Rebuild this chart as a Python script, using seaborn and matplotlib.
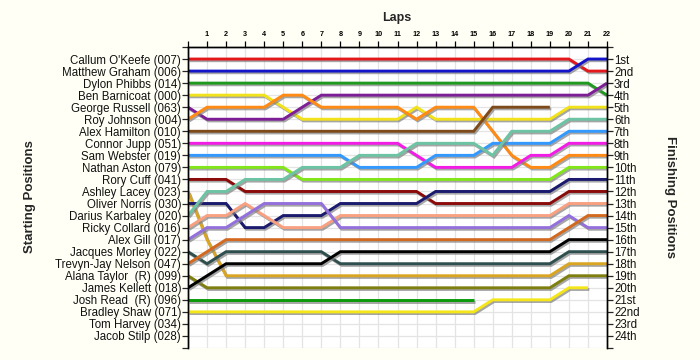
import numpy as np
import pandas as pd
import matplotlib
matplotlib.use("Agg")
import matplotlib.pyplot as plt
import matplotlib.patheffects as pe
import seaborn as sns

nan = np.nan
laps = list(range(0, 23))

drivers = ["Callum O'Keefe (007)", "Matthew Graham (006)", "Dylon Phibbs (014)",
           "Ben Barnicoat (000)", "George Russell (063)", "Roy Johnson (004)",
           "Alex Hamilton (010)", "Connor Jupp (051)", "Sam Webster (019)",
           "Nathan Aston (079)", "Rory Cuff (041)", "Ashley Lacey (023)",
           "Oliver Norris (030)", "Darius Karbaley (020)", "Ricky Collard (016)",
           "Alex Gill (017)", "Jacques Morley (022)", "Trevyn-Jay Nelson (047)",
           "Alana Taylor  (R) (099)", "James Kellett (018)", "Josh Read  (R) (096)",
           "Bradley Shaw (071)", "Tom Harvey (034)", "Jacob Stilp (028)"]

finish_labels = ["1st", "2nd", "3rd", "4th", "5th", "6th", "7th", "8th", "9th", "10th",
                 "11th", "12th", "13th", "14th", "15th", "16th", "17th", "18th", "19th",
                 "20th", "21st", "22nd", "23rd", "24th"]

callum = [1] * 21 + [2, 2]
matthew = [2] * 21 + [1, 1]
dylon = [3] * 22 + [4]
ben = [4, 4, 4, 4, 4, 5, 6, 6, 6, 6, 6, 6, 5, 6, 6, 6, 6, 6, 6, 6, 5, 5, 5]
george = [5, 6, 6, 6, 6, 6, 5, 4, 4, 4, 4, 4, 4, 4, 4, 4, 4, 4, 4, 4, 4, 4, 3]
roy = [6, 5, 5, 5, 5, 4, 4, 5, 5, 5, 5, 5, 6, 5, 5, 5, 7, 9, 10, 10, 9, 9, 9]
hamilton = [7] * 16 + [5] * 4 + [nan] * 3
connor = [8] * 12 + [9] + [10] * 5 + [9, 9] + [8, 8, 8]
sam = [9] * 9 + [10] * 4 + [9] * 3 + [8] * 4 + [7] * 3
nathan = [10] * 6 + [11] * 14 + [10] * 3
rory = [11] * 3 + [12] * 10 + [13] * 7 + [12] * 3
ashley = [12, 16] + [19] * 18 + [18] * 3
oliver = [13] * 3 + [15] * 2 + [14] * 3 + [13] * 5 + [12] * 7 + [11] * 3
darius = [14] + [12] * 2 + [11] * 3 + [10] * 3 + [9] * 3 + [8] * 4 + [9] + [7] * 3 + [6] * 3
ricky = [15] + [14] * 2 + [13] + [14] + [15] * 3 + [14] * 12 + [13] * 3
gill = [16] + [15] * 2 + [14] + [13] * 4 + [15] * 12 + [14] + [15] * 2
jacques = [17, 18] + [17] * 6 + [18] * 12 + [17] * 3
trevyn = [18, 17] + [16] * 18 + [15] + [14] * 2
alana = [19] + [20] * 19 + [19] * 3
kellett = [20, 19] + [18] * 6 + [17] * 12 + [16] * 3
josh = [21] * 16 + [nan] * 7
bradley = [22] * 16 + [21] * 4 + [20] * 2 + [nan]
tom = [nan] * 23
jacob = [nan] * 23

series = [callum, matthew, dylon, ben, george, roy, hamilton, connor, sam, nathan,
          rory, ashley, oliver, darius, ricky, gill, jacques, trevyn, alana, kellett,
          josh, bradley, tom, jacob]

colors = ["#E3171C", "#1414C8", "#1F9A1F", "#F2E21B", "#7D1E96", "#FF8A14",
          "#7F4A1A", "#F21CE6", "#3399FF", "#82E61A", "#8B0A0A", "#DAA520",
          "#1A1A6E", "#6DC4A4", "#F8A080", "#9370DB", "#2F4F4F", "#D2691E",
          "#7F7F10", "#000000", "#0A9A0A", "#F5E61A", "#888888", "#888888"]

rows = []
for d, s in zip(drivers, series):
    for lap, p in zip(laps, s):
        rows.append({"driver": d, "lap": lap, "pos": p})
df = pd.DataFrame(rows).dropna()

sns.set_theme(style="white")
plt.rcParams['font.family'] = ['Liberation Sans', 'DejaVu Sans']

fig = plt.figure(figsize=(7, 3.6), dpi=100, facecolor="#FFFFF5")
ax = fig.add_axes([188 / 700, 1 - 348 / 360, (607 - 188) / 700, (348 - 47) / 360])
ax.set_facecolor("white")

pal = dict(zip(drivers, colors))
sns.lineplot(data=df, x="lap", y="pos", hue="driver", palette=pal, estimator=None,
             legend=False, linewidth=2.1, ax=ax, sort=True)
for ln in ax.lines:
    ln.set_solid_capstyle("butt")
    ln.set_solid_joinstyle("miter")
    ln.set_path_effects([pe.SimpleLineShadow(offset=(1.0, -1.2), shadow_color="#808080", alpha=0.7),
                         pe.Normal()])

ax.set_xlim(0, 22)
ax.set_ylim(25, 0)

ax.set_xticks(laps)
ax.set_yticks(range(0, 26))
ax.grid(True, color="#E4E4E4", linewidth=0.9)
ax.set_axisbelow(True)

ax.xaxis.tick_top()
ax.set_xticklabels([""] + [str(i) for i in laps[1:]], fontsize=5.2, fontweight="bold")
ax.set_xlabel("")
ax.set_ylabel("")
ax.tick_params(axis="x", direction="out", length=4, width=0.9, pad=2.5, colors="black", top=True, bottom=False)

ax.set_yticklabels([""] + drivers + [""], fontsize=8.3, color="#111111")
ax.tick_params(axis="y", direction="out", length=4, width=0.9, pad=1, left=True)

ax2 = ax.twinx()
ax2.set_ylim(25, 0)
ax2.set_yticks(range(0, 26))
ax2.set_yticklabels([""] + finish_labels + [""], fontsize=8.3, color="#111111")
ax2.tick_params(axis="y", direction="out", length=4, width=0.9, pad=1, right=True)
ax2.set_ylabel("")

for a in (ax, ax2):
    a.spines["bottom"].set_visible(False)
    for k in ("top", "left", "right"):
        a.spines[k].set_color("black")
        a.spines[k].set_linewidth(1.0)

fig.text(397 / 700, 1 - 18 / 360, "Laps", fontsize=9, fontweight="bold", ha="center", va="center")
fig.text(30 / 700, 1 - 197 / 360, "Starting Positions", fontsize=9.5, fontweight="bold",
         rotation=90, ha="center", va="center")
fig.text(670 / 700, 1 - 197 / 360, "Finishing Positions", fontsize=9.5, fontweight="bold",
         rotation=270, ha="center", va="center")

fig.savefig("out.png", dpi=100, facecolor=fig.get_facecolor())
